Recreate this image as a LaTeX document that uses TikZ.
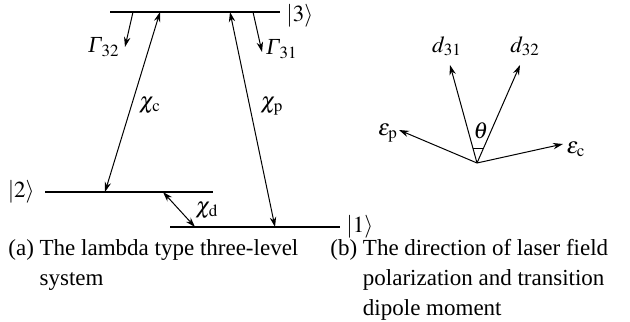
\documentclass[tikz,border=0pt]{standalone}
\usepackage{mathptmx}
\usepackage[no-math]{fontspec}
\setmainfont{Liberation Serif}
\usetikzlibrary{arrows.meta, positioning, calc}
\tikzset{
  levelL/.style={line width=0.6pt},
  arrowS/.style={-{Stealth[length=5pt, width=3.2pt]}, line width=0.5pt},
  arrowB/.style={{Stealth[length=5pt, width=3.2pt]}-{Stealth[length=5pt, width=3.2pt]}, line width=0.5pt},
  lbl/.style={inner sep=0pt},
  capText/.style={inner sep=0pt, align=left, anchor=north west},
}
\begin{document}
\begin{tikzpicture}[x=0.5pt, y=-0.5pt, font=\fontsize{11.5}{15}\selectfont]
  \useasboundingbox (0,0) rectangle (630,321);
  % (a) energy levels
  \coordinate (e3L) at (110,12);
  \coordinate (e3R) at (280,12);
  \coordinate (e2L) at (45,192);
  \coordinate (e2R) at (213,192);
  \coordinate (e1L) at (170,227);
  \coordinate (e1R) at (340,227);
  \draw[levelL] (e3L) -- (e3R);
  \draw[levelL] (e2L) -- (e2R);
  \draw[levelL] (e1L) -- (e1R);
  \node[lbl, right=3pt of e3R, yshift=-2pt] (k3) {$|3\rangle$};
  \node[lbl, left=5pt of e2L] (k2) {$|2\rangle$};
  \node[lbl, right=3pt of e1R] (k1) {$|1\rangle$};
  % couplings
  \coordinate (c3) at (160,12);
  \coordinate (c2) at (105,192);
  \coordinate (p3) at (230,12);
  \coordinate (p1) at (275,227);
  \coordinate (d2) at (163,192);
  \coordinate (d1) at (195,227);
  \draw[arrowB] (c2) -- (c3);
  \draw[arrowB] (p1) -- (p3);
  \draw[arrowB] (d2) -- (d1);
  \node[lbl] (chic) at (150,105) {$\chi_{\mathrm{c}}$};
  \node[lbl] (chip) at (272,106) {$\chi_{\mathrm{p}}$};
  \node[lbl] (chid) at (207,210) {$\chi_{\mathrm{d}}$};
  % decays
  \coordinate (g32a) at (133,12);
  \coordinate (g32b) at (125,47);
  \coordinate (g31a) at (253,12);
  \coordinate (g31b) at (262,52);
  \draw[arrowS] (g32a) -- (g32b);
  \draw[arrowS] (g31a) -- (g31b);
  \node[lbl] (gam32) at (104,47) {$\textit{Γ}_{32}$};
  \node[lbl] (gam31) at (282,49) {$\textit{Γ}_{31}$};
  % (b) vectors
  \coordinate (O) at (477,163);
  \coordinate (d31) at (450,65);
  \coordinate (d32) at (520,65);
  \coordinate (ep) at (399,130);
  \coordinate (ec) at (563,144);
  \draw[arrowS] (O) -- (d31);
  \draw[arrowS] (O) -- (d32);
  \draw[arrowS] (O) -- (ep);
  \draw[arrowS] (O) -- (ec);
  \draw[line width=0.5pt] ($(O)!0.153!(d31)$) -- ($(O)!0.153!(d32)$);
  \node[lbl] (ld31) at (447,46) {$d_{31}$};
  \node[lbl] (ld32) at (525,46) {$d_{32}$};
  \node[lbl] (lep) at (388,133) {$\varepsilon_{\mathrm{p}}$};
  \node[lbl] (lec) at (576,149) {$\varepsilon_{\mathrm{c}}$};
  \node[lbl] (th) at (481,131) {$\theta$};
  % captions
  \node[capText] (capA) at (8,239) {(a) The lambda type three-level\\\phantom{(a) }system};
  \node[capText] (capB) at (330,239) {(b) The direction of laser field\\\phantom{(b) }polarization and transition\\\phantom{(b) }dipole moment};
\end{tikzpicture}
\end{document}
